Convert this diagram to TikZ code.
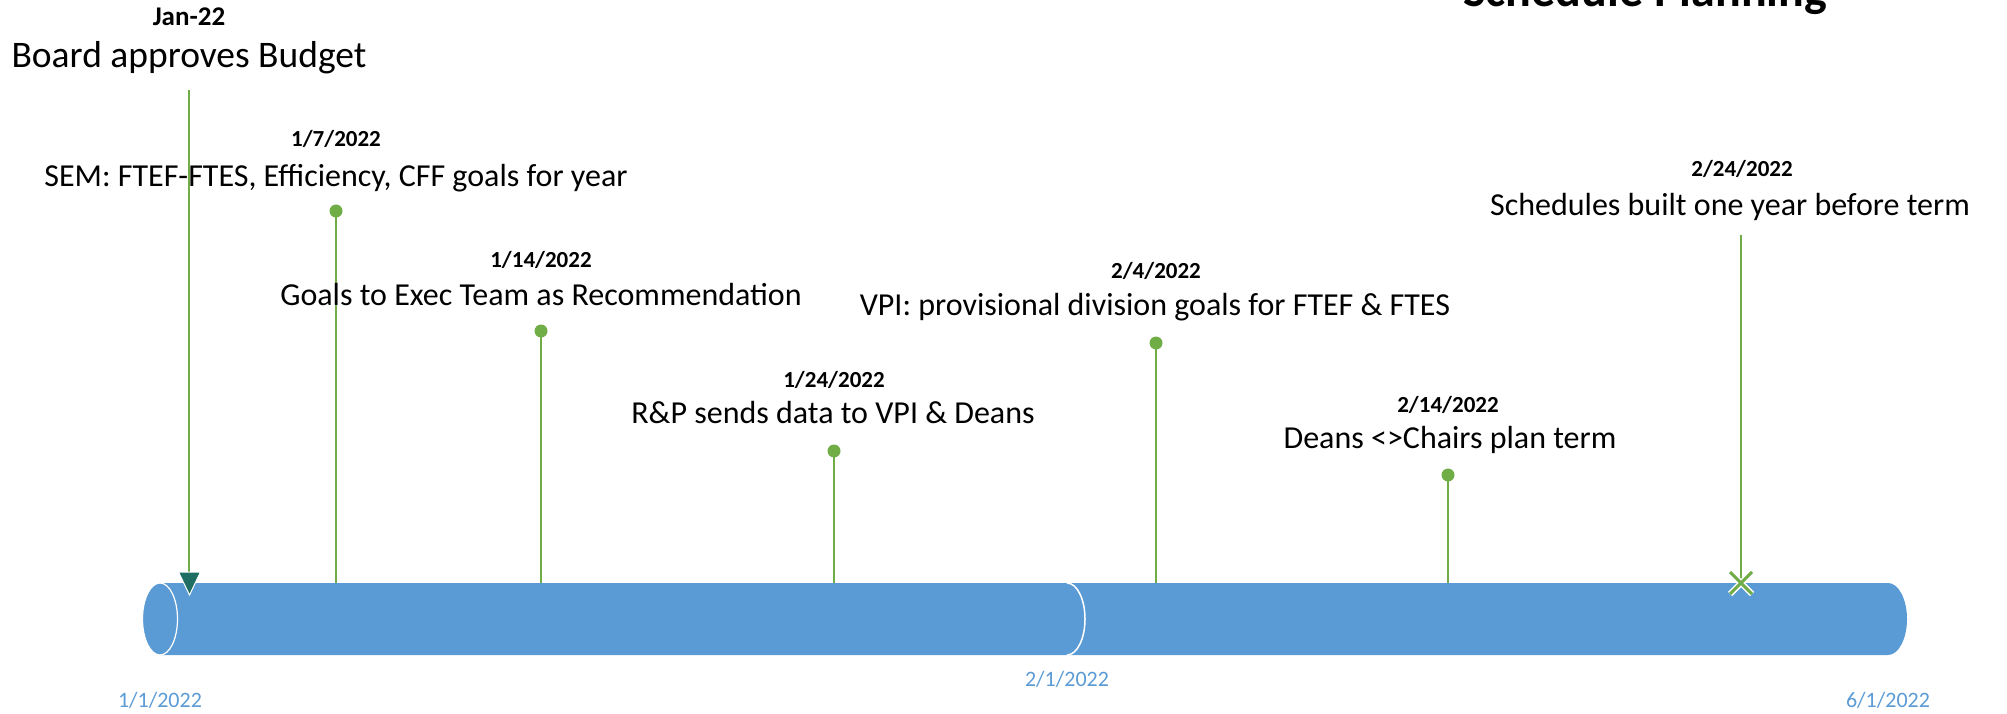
\documentclass[tikz,border=0pt]{standalone}
\usepackage{fontspec}
\setmainfont{Carlito}
\definecolor{tlblue}{HTML}{5B9BD5}
\definecolor{tlgreen}{HTML}{70AD47}
\definecolor{tlteal}{HTML}{1F6E64}
\tikzset{
  evtext/.style={anchor=base, inner sep=0pt, font=\fontsize{32}{38}\selectfont},
  evdate/.style={anchor=base, inner sep=0pt, font=\fontsize{23}{28}\selectfont\bfseries},
  axdate/.style={anchor=base, inner sep=0pt, text=tlblue, font=\fontsize{22}{26}\selectfont},
  dot/.style={circle, fill=tlgreen, minimum size=13pt, inner sep=0pt},
  stem/.style={draw=tlgreen, line width=2pt},
}
\begin{document}
\begin{tikzpicture}[x=1pt,y=-1pt]
\useasboundingbox (0,0) rectangle (2007,714);
\clip (0,0) rectangle (2007,714);

% title (cut at the top)
\node[anchor=base west, inner sep=0pt, font=\fontsize{48}{56}\selectfont\bfseries] (title) at (1463,7) {Schedule Planning};

% cylinder
\fill[tlblue] (160,583) -- (1888,583) arc[start angle=90,end angle=-90,x radius=19pt,y radius=36pt] -- (160,655) -- cycle;
\draw[white, fill=tlblue, line width=1.2pt] (160,619) ellipse [x radius=17.5pt, y radius=36pt];
\draw[white, line width=1.5pt] (1067,583) arc[start angle=90,end angle=-90,x radius=18pt,y radius=36pt];

% axis dates
\node[axdate] (a1) at (160,707) {1/1/2022};
\node[axdate] (a2) at (1067,686) {2/1/2022};
\node[axdate] (a3) at (1888,707) {6/1/2022};

% anchor coordinates on cylinder top
\coordinate (c0) at (189,572);
\coordinate (c1) at (336,583);
\coordinate (c2) at (541,583);
\coordinate (c3) at (834,583);
\coordinate (c4) at (1156,583);
\coordinate (c5) at (1448,583);
\coordinate (c6) at (1741,583);

% Board approves budget
\node[evdate, font=\fontsize{27}{32}\selectfont\bfseries] (t0) at (189,26) {Jan-22};
\node[evtext, font=\fontsize{37.5}{44}\selectfont] (e0) at (189,68) {Board approves Budget};
\coordinate (s0) at (189,90);
\draw[stem] (s0) -- (c0);
\draw[white, fill=tlteal, line width=1pt] (178.5,572) -- (200.5,572) -- (189.5,595) -- cycle;

% events
\node[evdate] (t1) at (336,147) {1/7/2022};
\node[evtext] (e1) at (336,186) {SEM: FTEF-FTES, Efficiency, CFF goals for year};
\draw[stem] (336,211) -- (c1);
\node[dot] (d1) at (336,211) {};

\node[evdate] (t2) at (541,267) {1/14/2022};
\node[evtext] (e2) at (541,305) {Goals to Exec Team as Recommendation};
\draw[stem] (541,331) -- (c2);
\node[dot] (d2) at (541,331) {};

\node[evdate] (t3) at (834,387) {1/24/2022};
\node[evtext] (e3) at (833,423) {R\&P sends data to VPI \& Deans};
\draw[stem] (834,451) -- (c3);
\node[dot] (d3) at (834,451) {};

\node[evdate] (t4) at (1156,278) {2/4/2022};
\node[evtext] (e4) at (1155,315) {VPI: provisional division goals for FTEF \& FTES};
\draw[stem] (1156,343) -- (c4);
\node[dot] (d4) at (1156,343) {};

\node[evdate] (t5) at (1448,412) {2/14/2022};
\node[evtext] (e5) at (1450,448) {Deans <>Chairs plan term};
\draw[stem] (1448,475) -- (c5);
\node[dot] (d5) at (1448,475) {};

\node[evdate] (t6) at (1742,177) {2/24/2022};
\node[evtext] (e6) at (1730,215) {Schedules built one year before term};
\coordinate (s6) at (1741,235);
\draw[stem] (s6) -- (c6);
\draw[white, line width=6pt] (1730,572) -- (1752,594) (1730,594) -- (1752,572);
\draw[tlgreen, line width=3pt] (1730,572) -- (1752,594) (1730,594) -- (1752,572);
\end{tikzpicture}
\end{document}
